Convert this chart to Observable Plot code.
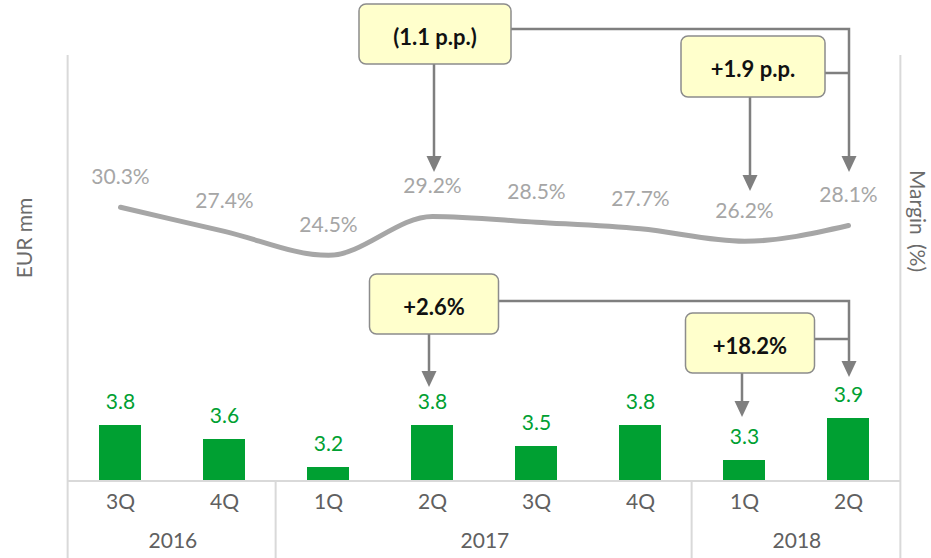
<!DOCTYPE html>
<html>
<head>
<meta charset="utf-8">
<script src="https://cdn.jsdelivr.net/npm/d3@7"></script>
<script src="https://cdn.jsdelivr.net/npm/@observablehq/plot@0.6"></script>
<style>
  html, body { margin: 0; padding: 0; background: #fff; }
  #chart { position: relative; width: 931px; height: 558px; overflow: hidden; }
  #chart svg { position: absolute; left: 0; top: 0; }
</style>
</head>
<body>
<div id="chart"></div>
<script>
// ---- data ----
const quarters = ["3Q", "4Q", "1Q", "2Q", "3Q", "4Q", "1Q", "2Q"];
const years    = ["2016", "2016", "2017", "2017", "2017", "2017", "2018", "2018"];
const ebitda   = [3.8, 3.6, 3.2, 3.8, 3.5, 3.8, 3.3, 3.9];      // EUR mm (bars)
const marginPct = [30.3, 27.4, 24.5, 29.2, 28.5, 27.7, 26.2, 28.1]; // margin % (line)
const yearLabels = ["2016", "2017", "2018"];
const calloutTexts = ["(1.1 p.p.)", "+1.9 p.p.", "+2.6%", "+18.2%"];
const leftTitle = "EUR mm";
const rightTitle = "Margin (%)";

// ---- layout ----
const W = 931, H = 558;
const mL = 65, mR = 28, mB = 77;
const FONT = "Lato, 'Open Sans', sans-serif";
const FS = 21;
const GREEN = "#00A032", LINEGRAY = "#A6A6A6", AXISTXT = "#606060", FRAME = "#D9D9D9", ARROW = "#7F7F7F";
const step = (W - mL - mR) / quarters.length;

const keys = quarters.map((q, i) => q + " " + years[i]);
const rows = keys.map((k, i) => ({key: k, q: quarters[i], year: years[i], v: ebitda[i], m: marginPct[i]}));

// year label anchors: centre of the year's categories
const yearRows = yearLabels.map(y => {
  const idx = years.map((yy, i) => yy === y ? i : -1).filter(i => i >= 0);
  const mid = idx[Math.floor((idx.length - 1) / 2)];
  return {year: y, key: keys[mid]};
});

const xOpts = {domain: keys, paddingInner: 0.6, paddingOuter: 0.3};

// ---- bars plot ----
const bars = Plot.plot({
  width: W, height: H,
  marginLeft: mL, marginRight: mR, marginTop: 0, marginBottom: mB,
  style: {fontFamily: FONT, fontSize: FS + "px", background: "transparent"},
  x: {...xOpts, axis: null},
  y: {domain: [3, 4], range: [H - mB, H - mB - 70], axis: null},
  marks: [
    Plot.barY(rows, {x: "key", y1: () => 3, y2: "v", fill: GREEN}),
    Plot.text(rows, {x: "key", y: "v", text: d => d3.format(".1f")(d.v), dy: -23, fill: GREEN, fontSize: FS}),
    Plot.text(rows, {x: "key", text: "q", frameAnchor: "bottom", dy: 27, fill: AXISTXT, fontSize: FS}),
    Plot.text(yearRows, {x: "key", text: "year", frameAnchor: "bottom", dy: 66, dx: step / 2, fill: AXISTXT, fontSize: FS})
  ]
});

// ---- margin line plot ----
const line = Plot.plot({
  width: W, height: H,
  marginLeft: mL, marginRight: mR, marginTop: 0, marginBottom: mB,
  style: {fontFamily: FONT, fontSize: FS + "px", background: "transparent"},
  x: {...xOpts, axis: null},
  y: {domain: [24, 31], range: [259, 201], axis: null},
  marks: [
    Plot.line(rows, {x: "key", y: "m", curve: "monotone-x", stroke: LINEGRAY, strokeWidth: 5, strokeLinecap: "round"}),
    Plot.text(rows, {x: "key", y: "m", text: d => d3.format(".1f")(d.m) + "%", dy: -30, fill: LINEGRAY, fontSize: FS})
  ]
});

const chart = document.getElementById("chart");
chart.appendChild(bars);
chart.appendChild(line);

// ---- frame, titles and callouts drawn from the plots' scales ----
const xs = bars.scale("x");
const cx = k => xs.apply(k) + xs.bandwidth / 2;
const yb = bars.scale("y");
const base = yb.apply(3);
const left = cx(keys[0]) - step / 2, right = cx(keys[keys.length - 1]) + step / 2;

const svg = d3.select(chart).append("svg")
  .attr("width", W).attr("height", H)
  .style("font-family", FONT);

const frame = svg.append("g").attr("stroke", FRAME).attr("stroke-width", 2).attr("fill", "none");
frame.append("line").attr("x1", left).attr("x2", left).attr("y1", 55).attr("y2", H);
frame.append("line").attr("x1", right).attr("x2", right).attr("y1", 55).attr("y2", H);
frame.append("line").attr("x1", left).attr("x2", right).attr("y1", base).attr("y2", base);
keys.forEach((k, i) => {
  if (i > 0 && years[i] !== years[i - 1]) {
    const xx = cx(k) - step / 2;
    frame.append("line").attr("x1", xx).attr("x2", xx).attr("y1", base).attr("y2", H);
  }
});

svg.append("text").attr("transform", `translate(23,238) rotate(-90)`)
  .attr("text-anchor", "middle").attr("dominant-baseline", "central")
  .attr("fill", "#6B6B6B").attr("font-size", FS).text(leftTitle);
svg.append("text").attr("transform", `translate(918,221) rotate(90)`)
  .attr("text-anchor", "middle").attr("dominant-baseline", "central")
  .attr("fill", "#6B6B6B").attr("font-size", FS).style("word-spacing", "4px").text(rightTitle);

const ann = svg.append("g");
function arrow(x1, y1, x2, y2) {
  const head = 16, hw = 7.5;
  ann.append("line").attr("x1", x1).attr("y1", y1).attr("x2", x2).attr("y2", y2 - head + 2)
    .attr("stroke", ARROW).attr("stroke-width", 2.5);
  ann.append("path").attr("d", `M${x2 - hw},${y2 - head} L${x2 + hw},${y2 - head} L${x2},${y2} Z`).attr("fill", ARROW);
}
function elbow(xStart, y, xEnd, yTip, withHead) {
  ann.append("path").attr("d", `M${xStart},${y} H${xEnd} V${withHead ? yTip - 14 : yTip}`)
    .attr("fill", "none").attr("stroke", ARROW).attr("stroke-width", 2.5);
  if (withHead) ann.append("path").attr("d", `M${xEnd - 7.5},${yTip - 16} L${xEnd + 7.5},${yTip - 16} L${xEnd},${yTip} Z`).attr("fill", ARROW);
}
function box(text, xc, w, y0, y1) {
  ann.append("rect").attr("x", xc - w / 2).attr("y", y0).attr("width", w).attr("height", y1 - y0)
    .attr("rx", 7).attr("fill", "#FFFFCC").attr("stroke", "#8C8C8C").attr("stroke-width", 1.5);
  ann.append("text").attr("x", xc).attr("y", (y0 + y1) / 2 + 2)
    .attr("text-anchor", "middle").attr("dominant-baseline", "central")
    .attr("font-weight", 700).attr("font-size", 22).attr("fill", "#111").text(text);
}

const kQ2_17 = keys[3], kQ1_18 = keys[6], kQ2_18 = keys[7];
const xEnd = cx(kQ2_18) + 1;

// margin callouts
elbow(cx(kQ2_17) + 3 + 76, 29, xEnd, 172, true);
arrow(cx(kQ2_17) + 2, 64, cx(kQ2_17) + 2, 172);
box(calloutTexts[0], cx(kQ2_17) + 3, 152, 4, 64);
elbow(cx(kQ1_18) + 9 + 72, 73, xEnd, 73, false);
arrow(cx(kQ1_18) + 6, 97, cx(kQ1_18) + 6, 191);
box(calloutTexts[1], cx(kQ1_18) + 9, 144, 36, 97);

// EBITDA callouts
elbow(cx(kQ2_17) + 2 + 64, 301, xEnd, 377, true);
arrow(cx(kQ2_17) - 3, 334, cx(kQ2_17) - 3, 387);
box(calloutTexts[2], cx(kQ2_17) + 2, 129, 274, 334);
elbow(cx(kQ1_18) + 6 + 64, 339, xEnd, 339, false);
arrow(cx(kQ1_18) - 2, 373, cx(kQ1_18) - 2, 417);
box(calloutTexts[3], cx(kQ1_18) + 6, 129, 313, 373);
</script>
</body>
</html>
